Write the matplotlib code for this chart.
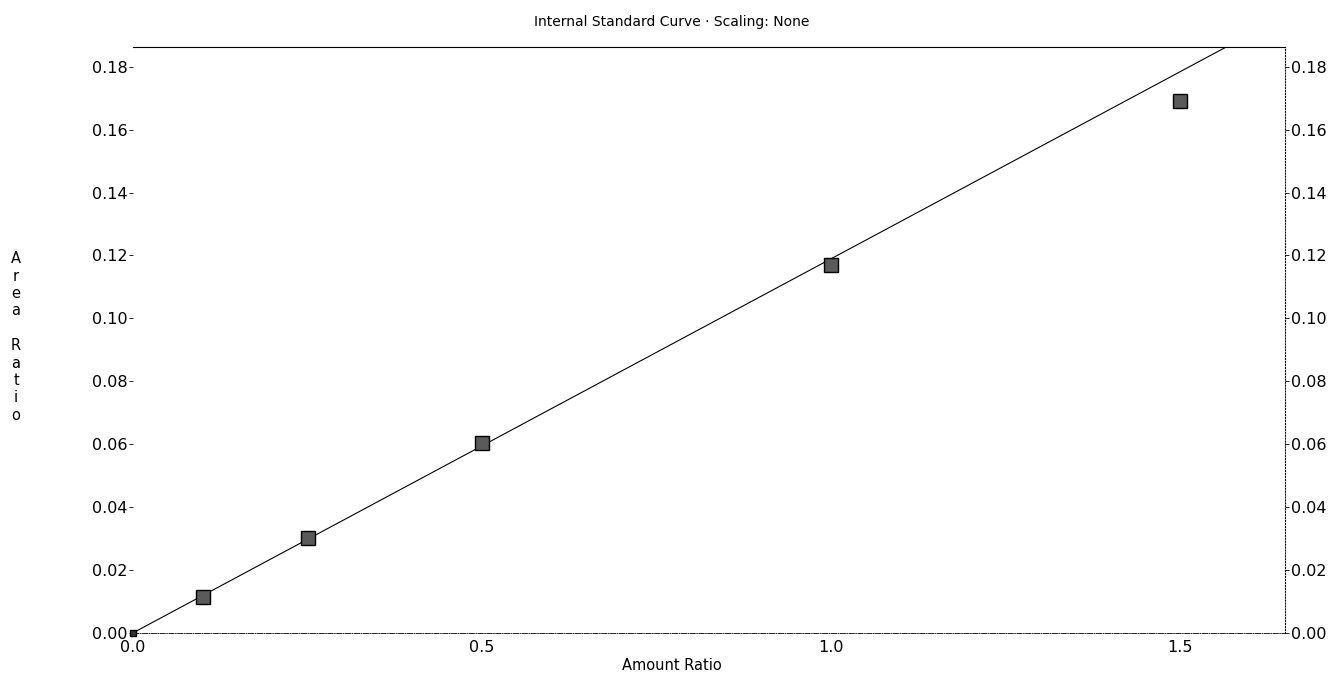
import matplotlib
matplotlib.use("Agg")
import matplotlib.pyplot as plt

plt.rcParams['font.family'] = ['DejaVu Sans']

amount_ratio = [0.0, 0.1, 0.25, 0.5, 1.0, 1.5]
area_ratio = [0.0, 0.0114, 0.0302, 0.0603, 0.1168, 0.169]
fit_x = [0.0, 1.565]
fit_y = [0.0, 0.1862]
y_ticks = [0.00, 0.02, 0.04, 0.06, 0.08, 0.10, 0.12, 0.14, 0.16, 0.18]
x_ticks = [0.0, 0.5, 1.0, 1.5]

fig = plt.figure(figsize=(13.43, 6.74), dpi=100)
ax = fig.add_axes([0.099, 0.061, 0.858, 0.869])

ax.plot(fit_x, fit_y, color='black', lw=0.8, zorder=2)
ax.plot(amount_ratio[1:], area_ratio[1:], ls='none', marker='s', ms=9.5,
        mfc='#5a5a5a', mec='black', mew=1.0, zorder=3)
ax.plot(amount_ratio[:1], area_ratio[:1], ls='none', marker='s', ms=4,
        mfc='#333333', mec='black', zorder=3, clip_on=False)

ax.set_xlim(0, 1.65)
ax.set_ylim(0, 0.1862)
ax.set_xticks(x_ticks)
ax.set_xticklabels([f"{v:.1f}" for v in x_ticks])
ax.set_yticks(y_ticks)
ax.set_yticklabels([f"{v:.2f}" for v in y_ticks])

ax.tick_params(axis='y', which='both', left=True, right=True, labelleft=True,
               labelright=True, direction='out', length=3, width=0.6,
               labelsize=11.5, pad=1)
ax.tick_params(axis='x', length=0, labelsize=11.5, pad=5)

ax.spines['left'].set_visible(False)
ax.spines['right'].set_linestyle(':')
ax.spines['right'].set_linewidth(0.8)
ax.spines['bottom'].set_linestyle('-.')
ax.spines['bottom'].set_linewidth(0.6)
ax.spines['top'].set_linewidth(0.8)

fig.text(0.5, 0.967, "Internal Standard Curve · Scaling: None", ha='center',
         va='center', fontsize=10)
fig.text(0.5, 0.013, "Amount Ratio", ha='center', va='center', fontsize=10.5)
fig.text(0.012, 0.5, "\n".join(list("Area")) + "\n\n" + "\n".join(list("Ratio")),
         ha='center', va='center', fontsize=10.5, linespacing=1.2)

fig.savefig("out.png", dpi=100)
